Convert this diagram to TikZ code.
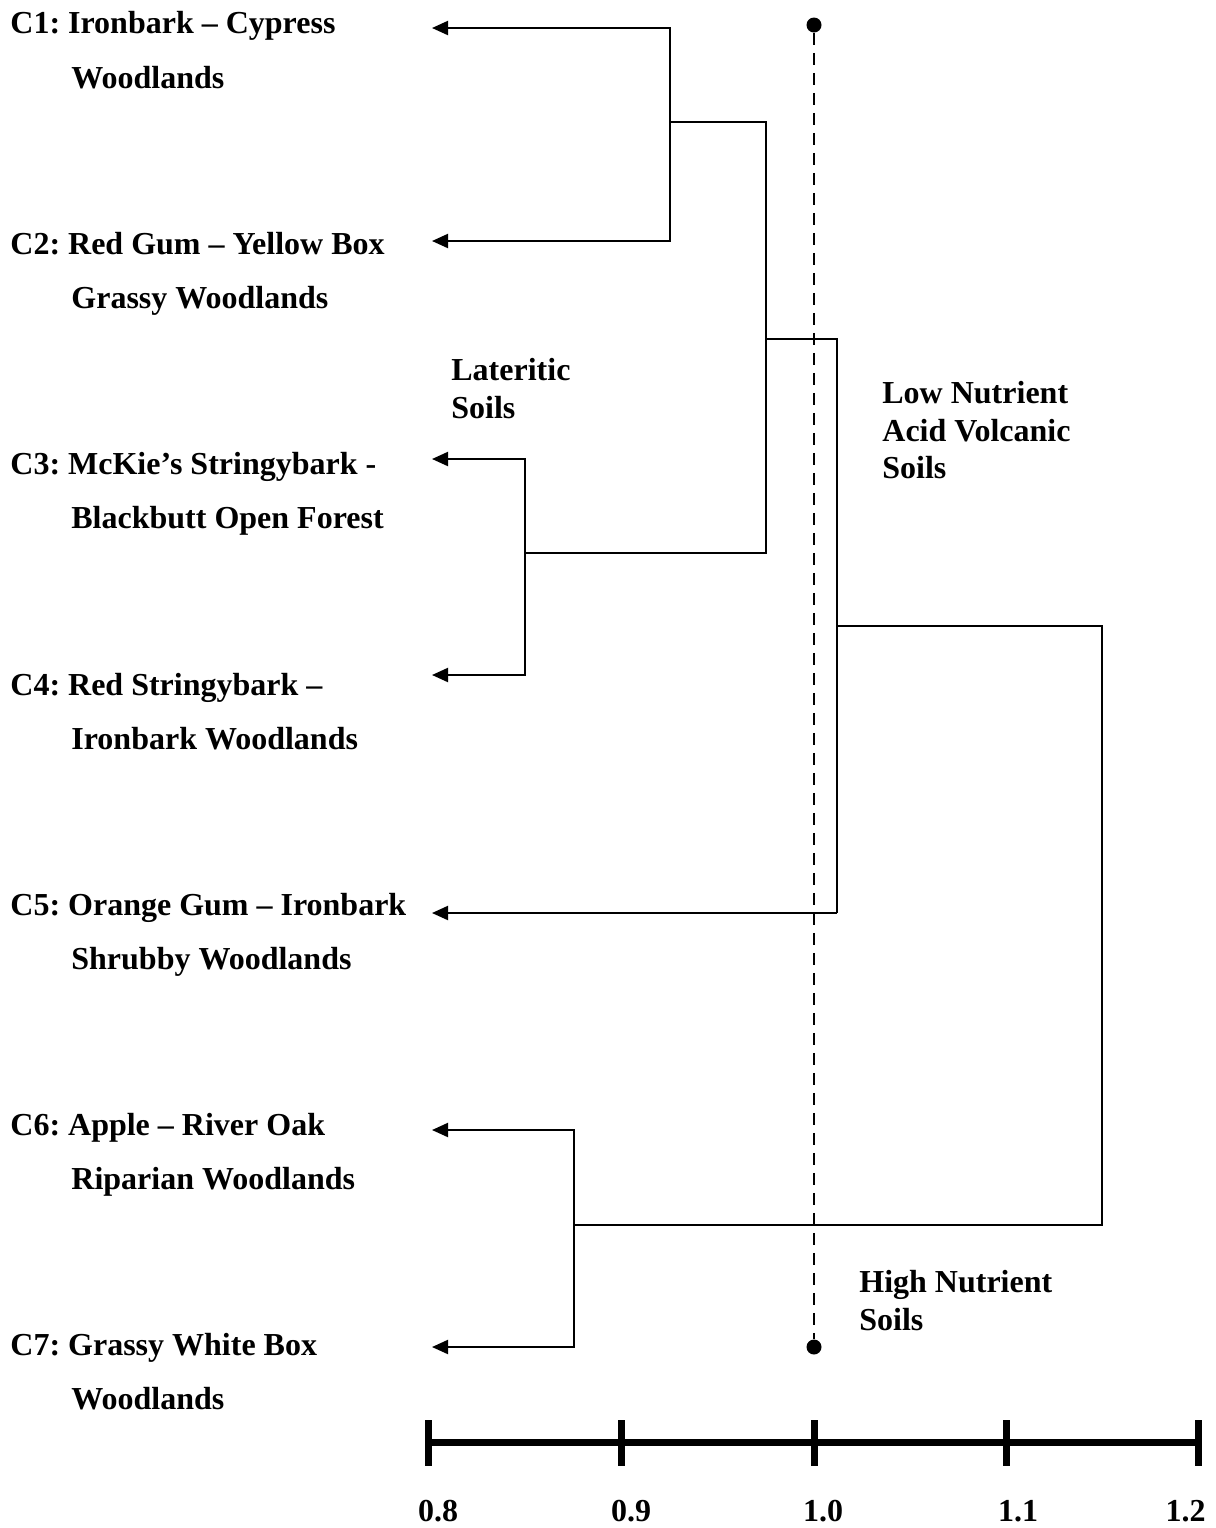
\documentclass[tikz,border=0pt]{standalone}
\usepackage{fontspec}
\setmainfont{Liberation Serif}
\usetikzlibrary{arrows.meta}
\begin{document}
\frenchspacing
\begin{tikzpicture}[x=0.5pt,y=-0.5pt,
  lbl/.style={anchor=base west,inner sep=0pt,font=\fontsize{16}{18}\selectfont\bfseries},
  ticklbl/.style={anchor=base,inner sep=0pt,font=\fontsize{16}{18}\selectfont\bfseries},
  tree/.style={line width=1pt},
  twoarr/.style={tree,{Triangle[length=8pt,width=7pt]}-{Triangle[length=8pt,width=7pt]}},
  onearr/.style={tree,-{Triangle[length=8pt,width=7pt]}},
  axisline/.style={line width=3.5pt},
  cutline/.style={line width=1.1pt,dash pattern=on 6pt off 4pt},
  dotnode/.style={circle,fill,inner sep=0pt,minimum size=7.5pt}]
\useasboundingbox (0,0) rectangle (1216,1528);

% labels
\node[lbl] (c1a) at (10,33) {C1: Ironbark -- Cypress};
\node[lbl] (c1b) at (71,88) {Woodlands};
\node[lbl] (c2a) at (10,254) {C2: Red Gum -- Yellow Box};
\node[lbl] (c2b) at (71,308) {Grassy Woodlands};
\node[lbl] (c3a) at (10,474) {C3: McKie’s Stringybark -};
\node[lbl] (c3b) at (71,528) {Blackbutt Open Forest};
\node[lbl] (c4a) at (10,695) {C4: Red Stringybark --};
\node[lbl] (c4b) at (71,749) {Ironbark Woodlands};
\node[lbl] (c5a) at (10,915) {C5: Orange Gum -- Ironbark};
\node[lbl] (c5b) at (71,969) {Shrubby Woodlands};
\node[lbl] (c6a) at (10,1135) {C6: Apple -- River Oak};
\node[lbl] (c6b) at (71,1189) {Riparian Woodlands};
\node[lbl] (c7a) at (10,1355) {C7: Grassy White Box};
\node[lbl] (c7b) at (71,1409) {Woodlands};

\node[lbl] (lat1) at (451,380) {Lateritic};
\node[lbl] (lat2) at (451,418) {Soils};
\node[lbl] (low1) at (882,403) {Low Nutrient};
\node[lbl] (low2) at (882,441) {Acid Volcanic};
\node[lbl] (low3) at (882,478) {Soils};
\node[lbl] (high1) at (859,1292) {High Nutrient};
\node[lbl] (high2) at (859,1330) {Soils};

% arrow tips
\coordinate (t1) at (432,28);
\coordinate (t2) at (432,241);
\coordinate (t3) at (432,459);
\coordinate (t4) at (432,675);
\coordinate (t5) at (432,913);
\coordinate (t6) at (432,1130);
\coordinate (t7) at (432,1347);

% tree corners
\coordinate (a1) at (670,28);
\coordinate (a2) at (670,241);
\coordinate (m12) at (670,122);
\coordinate (p12) at (766,122);
\coordinate (a3) at (525,459);
\coordinate (a4) at (525,675);
\coordinate (m34) at (525,553);
\coordinate (p34) at (766,553);
\coordinate (m1234) at (766,339);
\coordinate (p1234) at (837,339);
\coordinate (a5) at (837,913);
\coordinate (m12345) at (837,626);
\coordinate (p12345) at (1102,626);
\coordinate (a6) at (574,1130);
\coordinate (a7) at (574,1347);
\coordinate (m67) at (574,1225);
\coordinate (p67) at (1102,1225);

\draw[twoarr] (t1) -- (a1) -- (a2) -- (t2);
\draw[tree] (m12) -- (p12) -- (p34) -- (m34);
\draw[twoarr] (t3) -- (a3) -- (a4) -- (t4);
\draw[tree] (m1234) -- (p1234) -- (a5);
\draw[onearr] (a5) -- (t5);
\draw[tree] (m12345) -- (p12345) -- (p67) -- (m67);
\draw[twoarr] (t6) -- (a6) -- (a7) -- (t7);

% cut line
\node[dotnode] (dtop) at (814,25) {};
\node[dotnode] (dbot) at (814,1347) {};
\draw[cutline] (dtop) -- (dbot);

% axis
\coordinate (x08) at (428,1442);
\coordinate (x09) at (621,1442);
\coordinate (x10) at (814,1442);
\coordinate (x11) at (1006,1442);
\coordinate (x12) at (1198,1442);
\draw[axisline] (x08) -- (x12);
\foreach \p in {x08,x09,x10,x11,x12}
  \draw[axisline] ([yshift=11pt]\p) -- ([yshift=-12pt]\p);
\node[ticklbl] (l08) at (438,1521) {0.8};
\node[ticklbl] (l09) at (631,1521) {0.9};
\node[ticklbl] (l10) at (823,1521) {1.0};
\node[ticklbl] (l11) at (1018,1521) {1.1};
\node[ticklbl,anchor=base east] (l12) at (1206,1521) {1.2};
\end{tikzpicture}
\end{document}
